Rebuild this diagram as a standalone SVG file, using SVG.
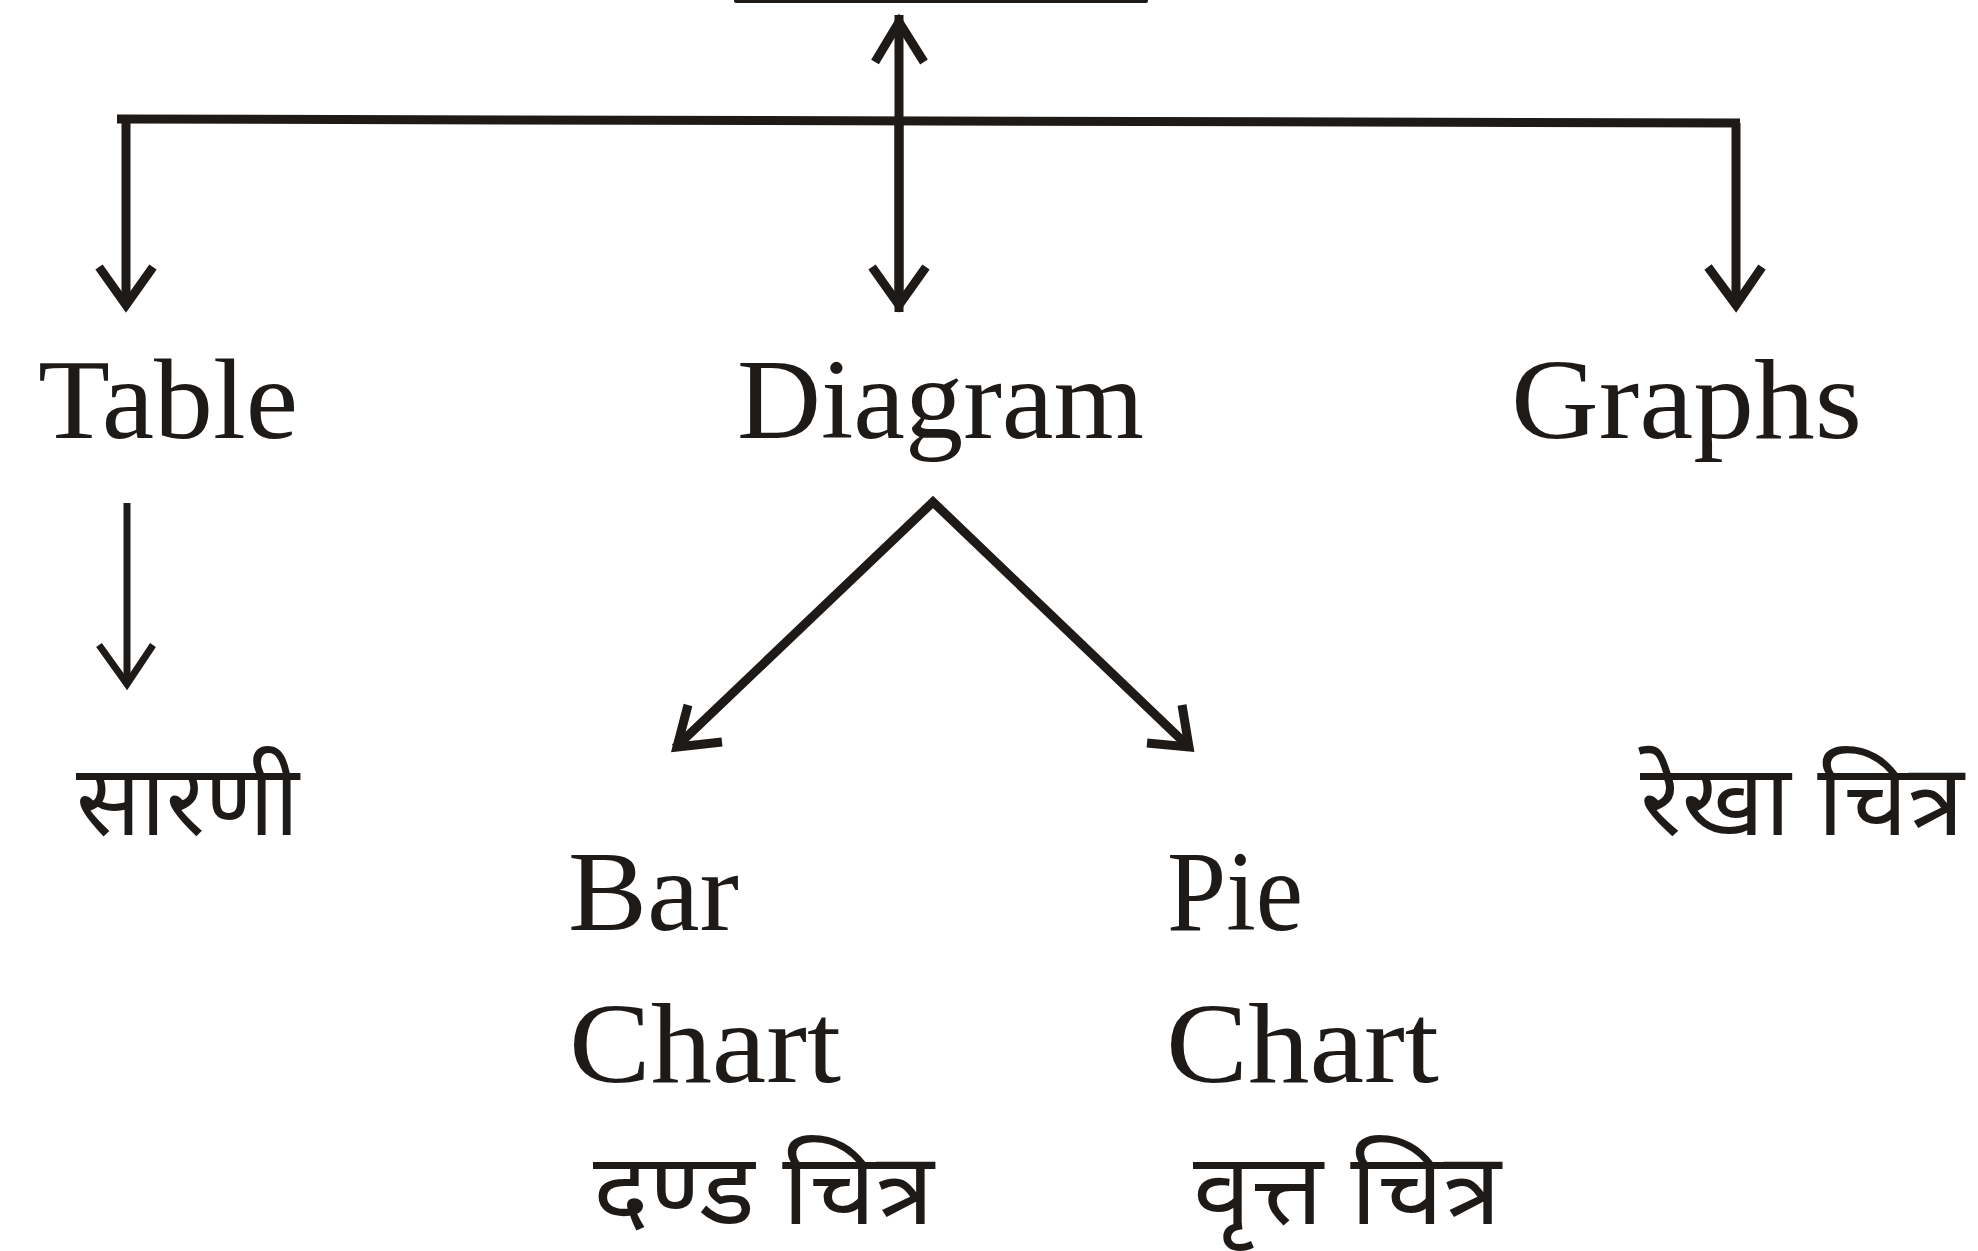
<svg xmlns="http://www.w3.org/2000/svg" width="1978" height="1251" viewBox="0 0 1978 1251">
<style>
.en{font-family:"Liberation Serif","Times New Roman",serif;font-size:115px;fill:#1e1a18}
.hi{font-family:"Noto Sans Devanagari","Noto Serif Devanagari","Lohit Devanagari","Mangal","Noto Sans",sans-serif;font-size:100px;fill:#1e1a18}
.ln{fill:none;stroke:#1e1a18;stroke-width:9;stroke-linecap:butt;stroke-linejoin:miter}
.ln2{fill:none;stroke:#1e1a18;stroke-width:7;stroke-linejoin:miter}
</style>
<rect width="1978" height="1251" fill="#ffffff"/>
<g id="top-box">
<path d="M736 -20 V1 H1146 V-20" fill="none" stroke="#1e1a18" stroke-width="4" stroke-linejoin="round"/>
</g>
<g id="connectors">
<path class="ln" d="M117 119 L1740 123"/>
<path class="ln" d="M899 15 V312"/>
<path class="ln" d="M875 62 L899 22 L924 62"/>
<path class="ln" d="M126 119 V305"/>
<path class="ln" d="M99 267 L126 305 L153 267"/>
<path class="ln" d="M899 123 V305"/>
<path class="ln" d="M872 267 L899 305 L926 267"/>
<path class="ln" d="M1736 123 V305"/>
<path class="ln" d="M1708 267 L1736 305 L1762 267"/>
<path class="ln2" d="M127 503 V684"/>
<path class="ln2" d="M99 645 L127 684 L153 645"/>
<path class="ln" d="M675 748 L933 502 L1190 748"/>
<path class="ln" d="M688 705 L677 747 L722 742"/>
<path class="ln" d="M1182 705 L1189 747 L1147 743"/>
</g>
<g id="table"><text class="en" x="38" y="438" textLength="260" lengthAdjust="spacingAndGlyphs">Table</text></g>
<g id="diagram"><text class="en" x="737" y="438" textLength="407" lengthAdjust="spacingAndGlyphs">Diagram</text></g>
<g id="graphs"><text class="en" x="1511" y="438" textLength="351" lengthAdjust="spacingAndGlyphs">Graphs</text></g>
<g id="sarani"><text class="hi" x="76" y="835" textLength="223" lengthAdjust="spacingAndGlyphs">सारणी</text></g>
<g id="rekha-chitra"><text class="hi" x="1640" y="835" textLength="324" lengthAdjust="spacingAndGlyphs">रेखा चित्र</text></g>
<g id="bar-chart">
<text class="en" x="568" y="930" textLength="171" lengthAdjust="spacingAndGlyphs">Bar</text>
<text class="en" x="569" y="1082" textLength="272" lengthAdjust="spacingAndGlyphs">Chart</text>
<text class="hi" x="593" y="1224" textLength="341" lengthAdjust="spacingAndGlyphs">दण्ड चित्र</text>
</g>
<g id="pie-chart">
<text class="en" x="1167" y="930" textLength="136" lengthAdjust="spacingAndGlyphs">Pie</text>
<text class="en" x="1166" y="1082" textLength="273" lengthAdjust="spacingAndGlyphs">Chart</text>
<text class="hi" x="1193" y="1224" textLength="308" lengthAdjust="spacingAndGlyphs">वृत्त चित्र</text>
</g>
</svg>
